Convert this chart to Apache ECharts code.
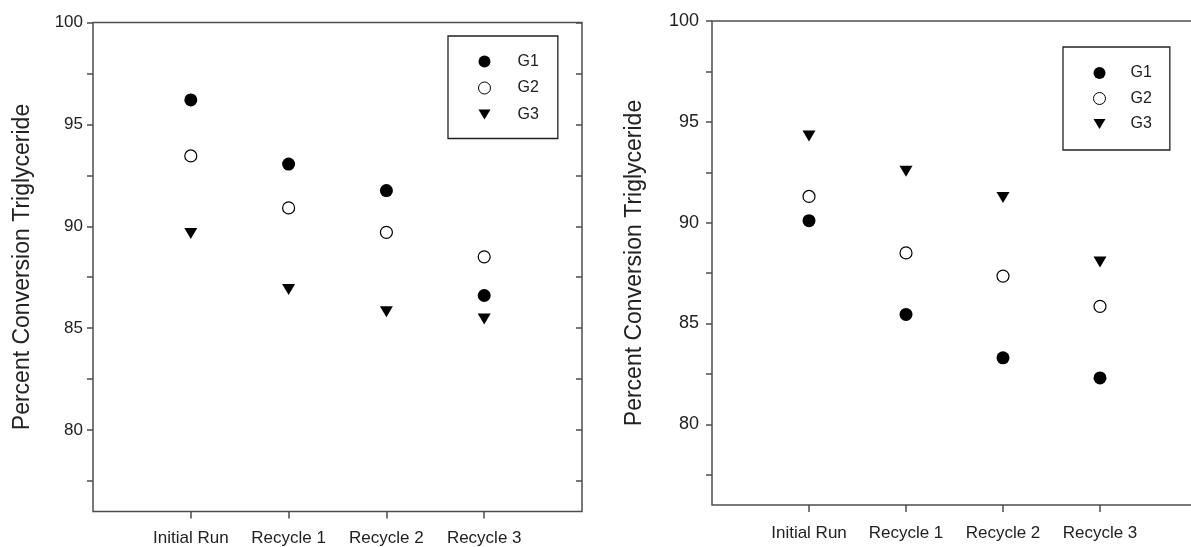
<!DOCTYPE html>
<html lang="en">
<head>
<meta charset="UTF-8">
<title>Percent Conversion Triglyceride</title>
<style>
  html, body { margin: 0; padding: 0; background: #fff; }
  #container { width: 1191px; height: 547px; }
</style>
</head>
<body>
<div id="container"></div>
<script src="https://cdn.jsdelivr.net/npm/echarts@6/dist/echarts.min.js"></script>
<script>
// categories on the x axis (both panels)
var categories = ['Initial Run', 'Recycle 1', 'Recycle 2', 'Recycle 3'];
var seriesNames = ['G1', 'G2', 'G3'];

// left panel
var leftG1 = [96.2, 93.05, 91.75, 86.6];
var leftG2 = [93.45, 90.9, 89.7, 88.5];
var leftG3 = [89.65, 86.9, 85.8, 85.45];

// right panel
var rightG1 = [90.1, 85.45, 83.3, 82.3];
var rightG2 = [91.3, 88.5, 87.35, 85.85];
var rightG3 = [94.3, 92.55, 91.25, 88.05];

// y axis ticks / labels
var yMin = 76, yMax = 100;
var yTicks = [77.5, 80, 82.5, 85, 87.5, 90, 92.5, 95, 97.5, 100];
var yLabels = [80, 85, 90, 95, 100];

var yTitle = 'Percent Conversion Triglyceride';
var font = '"Liberation Sans", Arial, sans-serif';
var lineCol = '#4d4d4d';
var triangle = 'path://M0,0L12,0L6,10Z';

// padded so categories sit at 1..4 of a 0..5 axis
var xData = [''].concat(categories, ['']);

function pts(vals) {
  var out = [];
  for (var i = 0; i < vals.length; i++) {
    out.push([categories[i], vals[i]]);
  }
  return out;
}

function makeSeries(idx, g1, g2, g3, size) {
  return [{
    name: 'G1', type: 'scatter', xAxisIndex: idx, yAxisIndex: idx * 2,
    symbol: 'circle', symbolSize: size,
    itemStyle: { color: '#000', opacity: 1 },
    data: pts(g1)
  }, {
    name: 'G2', type: 'scatter', xAxisIndex: idx, yAxisIndex: idx * 2,
    symbol: 'circle', symbolSize: size - 1,
    itemStyle: { color: '#fff', borderColor: '#000', borderWidth: 1.2, opacity: 1 },
    data: pts(g2)
  }, {
    name: 'G3', type: 'scatter', xAxisIndex: idx, yAxisIndex: idx * 2,
    symbol: triangle, symbolSize: [size, size - 2],
    itemStyle: { color: '#000', opacity: 1 },
    data: pts(g3)
  }];
}

function xAxis(idx, fontSize, margin) {
  return {
    type: 'category', gridIndex: idx, data: xData, boundaryGap: false,
    axisLine: { show: false },
    axisTick: {
      show: true,
      length: 7,
      interval: function (i, v) { return v !== ''; },
      lineStyle: { color: lineCol, width: 1.5 }
    },
    axisLabel: { interval: 0, margin: margin, fontSize: fontSize, color: '#222', fontFamily: font },
    splitLine: { show: false }
  };
}

function yAxes(idx, fontSize, margin, nameGap) {
  return [{
    type: 'value', gridIndex: idx, position: 'left', min: yMin, max: yMax,
    name: yTitle, nameLocation: 'middle', nameGap: nameGap,
    nameTextStyle: { fontSize: 23, color: '#222', fontFamily: font },
    axisLine: { show: false },
    axisTick: { show: true, length: 6, customValues: yTicks, lineStyle: { color: lineCol, width: 1.5 } },
    axisLabel: { customValues: yLabels, margin: margin, fontSize: fontSize, color: '#222', fontFamily: font },
    splitLine: { show: false }
  }, {
    type: 'value', gridIndex: idx, position: 'right', min: yMin, max: yMax,
    axisLine: { show: false },
    axisTick: { show: true, inside: true, length: 6, customValues: yTicks, lineStyle: { color: lineCol, width: 1.5 } },
    axisLabel: { show: false },
    splitLine: { show: false }
  }];
}

function legend(left, top, pad, gap, textPad) {
  return {
    orient: 'vertical', left: left, top: top, padding: pad,
    itemWidth: 12, itemHeight: 12, itemGap: gap,
    borderColor: '#222', borderWidth: 1.3,
    selectedMode: false,
    itemStyle: { borderWidth: 1 },
    data: seriesNames,
    textStyle: { fontSize: 16, color: '#222', fontFamily: font, lineHeight: 14, padding: [0, 0, 0, textPad] }
  };
}

var chart = echarts.init(document.getElementById('container'));
chart.setOption({
  backgroundColor: '#fff',
  animation: false,
  textStyle: { fontFamily: font },
  grid: [
    { left: 93, top: 22.5, width: 489, height: 489, outerBoundsMode: 'none',
      show: true, borderColor: lineCol, borderWidth: 1.5 },
    { left: 712, top: 21, width: 485, height: 484, outerBoundsMode: 'none',
      show: true, borderColor: lineCol, borderWidth: 1.5 }
  ],
  xAxis: [xAxis(0, 17, 18), xAxis(1, 17, 20)],
  yAxis: yAxes(0, 17, 10, 59).concat(yAxes(1, 18, 13, 66)),
  legend: [
    legend(448, 36, [17.5, 19, 16, 30], 10.5, 22),
    legend(1063, 47, [18, 18, 18, 30], 9.5, 20)
  ],
  series: makeSeries(0, leftG1, leftG2, leftG3, 13).concat(makeSeries(1, rightG1, rightG2, rightG3, 13))
});
</script>
</body>
</html>
